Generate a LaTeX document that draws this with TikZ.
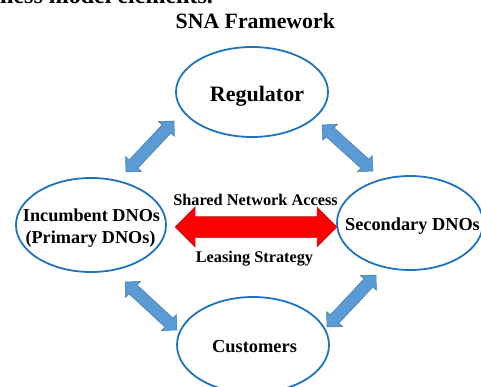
\documentclass[tikz,border=0pt]{standalone}
\usepackage{fontspec}
\setmainfont{Liberation Serif}
\usetikzlibrary{shapes.geometric}

\definecolor{ellblue}{RGB}{30,115,190}
\definecolor{arrblue}{RGB}{91,155,213}
\definecolor{arredge}{RGB}{70,120,165}
\definecolor{arrred}{RGB}{255,0,0}
\definecolor{redge}{RGB}{170,40,60}

\tikzset{
  party/.style={ellipse, draw=ellblue, line width=1.8pt, inner sep=0pt},
  txt/.style={anchor=base, inner sep=0pt, font=\bfseries\fontsize{#1}{#1}\selectfont},
  bluearrow/.style={fill=arrblue, draw=arredge, line width=0.5pt, line join=miter},
  redarrow/.style={fill=arrred, draw=redge, line width=0.5pt, line join=miter}
}

% Block double arrow between two named points:
% #1 from, #2 to, #3 style, #4 head length, #5 head half width, #6 shaft half width
\newcommand\blockarrow[6]{%
  \pgfpointdiff{\pgfpointanchor{#1}{center}}{\pgfpointanchor{#2}{center}}%
  \pgfgetlastxy\dxa\dya
  \pgfmathsetmacro\arrang{atan2(\dya,\dxa)}%
  \pgfmathsetmacro\arrlen{veclen(\dxa,\dya)}%
  \begin{scope}[shift={(#1)}, rotate=\arrang]
    \filldraw[#3] (0pt,0pt) -- (#4,#5) -- (#4,#6) -- ({\arrlen pt-#4},#6)
      -- ({\arrlen pt-#4},#5) -- (\arrlen pt,0pt) -- ({\arrlen pt-#4},-#5)
      -- ({\arrlen pt-#4},-#6) -- (#4,-#6) -- (#4,-#5) -- cycle;
  \end{scope}}

\begin{document}
\begin{tikzpicture}[x=1pt,y=-1pt]
\useasboundingbox (0,0) rectangle (481,387);

% running text above the figure
\node[anchor=base west, inner sep=0pt, font=\bfseries\fontsize{24}{24}\selectfont]
  (prev) at (0,4) {ness model elements.};

% title
\node[txt=21.8] (title) at (255.3,29) {SNA Framework};

% parties
\node[party, minimum width=152pt, minimum height=90pt] (reg) at (252,92) {};
\node[party, minimum width=150pt, minimum height=94pt] (inc) at (91,225) {};
\node[party, minimum width=146pt, minimum height=94pt] (sec) at (410,223) {};
\node[party, minimum width=152pt, minimum height=96pt] (cus) at (253,345) {};

\node[txt=22]   (regt)  at (257,102)   {Regulator};
\node[txt=18.2] (inct1) at (91.5,222)  {Incumbent DNOs};
\node[txt=18.2] (inct2) at (90.5,243)  {(Primary DNOs)};
\node[txt=18.3] (sect)  at (412.5,230) {Secondary DNOs};
\node[txt=18.4] (cust)  at (254.5,352) {Customers};

% relation between the network operators
\node[txt=16.3] (share) at (255.5,206) {Shared Network Access};
\node[txt=16.3] (lease) at (254.5,262) {Leasing Strategy};

% arrow end points
\coordinate (incR) at (175,227);
\coordinate (secL) at (337,227);
\coordinate (regSW) at (174,121);
\coordinate (incNE) at (126,172);
\coordinate (regSE) at (322,125);
\coordinate (secNW) at (373,171);
\coordinate (incSE) at (125,282);
\coordinate (cusNW) at (177,330);
\coordinate (secSW) at (376,275);
\coordinate (cusNE) at (327,327);

\blockarrow{incR}{secL}{redarrow}{20pt}{20pt}{10.5pt}
\blockarrow{incNE}{regSW}{bluearrow}{11pt}{11pt}{6pt}
\blockarrow{regSE}{secNW}{bluearrow}{11pt}{11pt}{6pt}
\blockarrow{incSE}{cusNW}{bluearrow}{11pt}{11pt}{6pt}
\blockarrow{cusNE}{secSW}{bluearrow}{11pt}{11pt}{6pt}
\end{tikzpicture}
\end{document}
